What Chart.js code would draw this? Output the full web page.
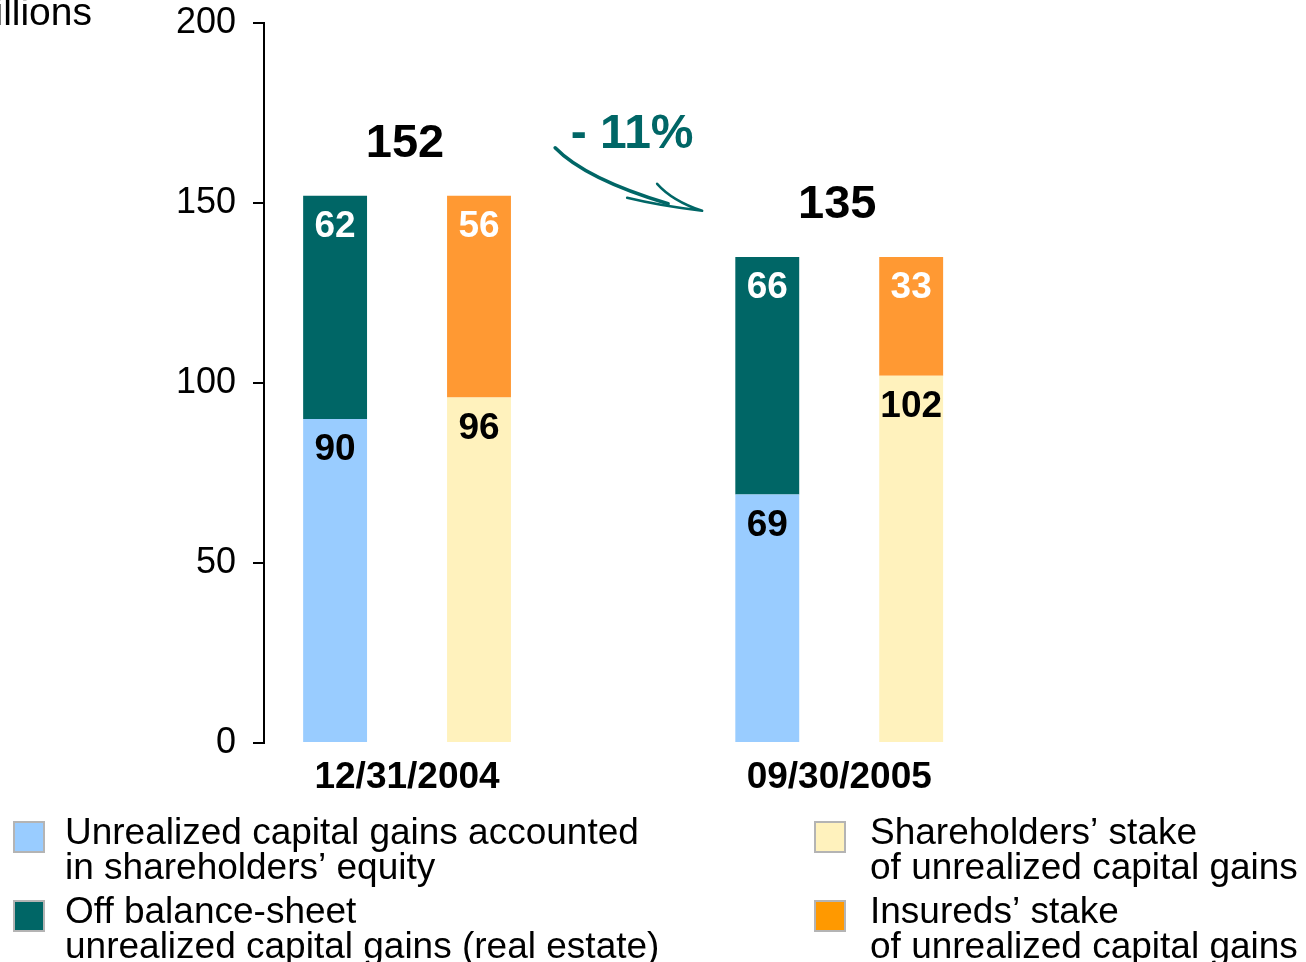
<!DOCTYPE html>
<html>
<head>
<meta charset="utf-8">
<title>Unrealized capital gains</title>
<script src="https://cdn.jsdelivr.net/npm/chart.js@4"></script>
<style>
  html, body { margin: 0; padding: 0; background: #fff; overflow: hidden; }
  canvas { display: block; }
</style>
</head>
<body>
<canvas id="gainsChart" width="1306" height="962"></canvas>
<script>
const categories = ['12/31/2004', '09/30/2005'];
const equityGains = [90, 69];
const offBalanceGains = [62, 66];
const shareholdersStake = [96, 102];
const insuredsStake = [56, 33];
const totals = [152, 135];
const changeLabel = '- 11%';
const unitLabel = 'In € billions';
const yTicks = [0, 50, 100, 150, 200];

const FONT = '"Liberation Sans", Arial, Helvetica, sans-serif';
const TEAL = '#006666';

Chart.defaults.font.family = FONT;
Chart.defaults.color = '#000';

function points(values) {
    return values.map((v, i) => ({ x: i, y: v }));
}

// value labels inside the bars, totals above, and the -11% arrow
const barAnnotations = {
    id: 'barAnnotations',
    afterDatasetsDraw(chart) {
        const ctx = chart.ctx;
        const xs = chart.scales.x;
        const ys = chart.scales.y;
        ctx.save();
        ctx.textAlign = 'center';
        ctx.textBaseline = 'middle';

        ctx.font = 'bold 37px ' + FONT;
        chart.data.datasets.forEach((ds, di) => {
            chart.getDatasetMeta(di).data.forEach((bar, i) => {
                ctx.fillStyle = ds.labelColor;
                ctx.fillText(String(ds.data[i].y), bar.x, bar.y + 31);
            });
        });

        ctx.font = 'bold 47px ' + FONT;
        ctx.fillStyle = '#000';
        totals.forEach((t, i) => {
            ctx.fillText(String(t), xs.getPixelForValue(i) - 2, ys.getPixelForValue(t) - 52);
        });

        const cx = (xs.getPixelForValue(0) + xs.getPixelForValue(1)) / 2 + 9;
        const cy = ys.getPixelForValue(totals[0]) - 61;
        ctx.font = 'bold 48px ' + FONT;
        ctx.fillStyle = TEAL;
        ctx.fillText(changeLabel, cx, cy);

        ctx.strokeStyle = TEAL;
        ctx.lineCap = 'round';
        ctx.lineWidth = 3.5;
        ctx.beginPath();
        ctx.moveTo(cx - 77, cy + 13);
        ctx.quadraticCurveTo(cx - 47, cy + 44, cx + 36, cy + 69);
        ctx.stroke();
        ctx.lineWidth = 2.5;
        ctx.beginPath();
        ctx.moveTo(cx + 25, cy + 49);
        ctx.quadraticCurveTo(cx + 40, cy + 66, cx + 70, cy + 76);
        ctx.moveTo(cx - 5, cy + 63);
        ctx.quadraticCurveTo(cx + 28, cy + 71, cx + 70, cy + 76);
        ctx.stroke();
        ctx.restore();
    }
};

// two-column legend with wrapped labels, plus the unit caption
const sideLegend = {
    id: 'sideLegend',
    afterDraw(chart) {
        const ctx = chart.ctx;
        ctx.save();
        ctx.font = '37px ' + FONT;
        ctx.textAlign = 'left';
        ctx.textBaseline = 'alphabetic';
        chart.data.datasets.forEach((ds, di) => {
            const col = di < 2 ? 0 : 1;
            const row = di % 2;
            const boxX = col === 0 ? 14 : 815;
            const textX = col === 0 ? 65 : 870;
            const top = 822 + row * 79;
            ctx.fillStyle = ds.legendColor;
            ctx.fillRect(boxX, top, 30, 30);
            ctx.strokeStyle = '#b4b4b4';
            ctx.lineWidth = 2;
            ctx.strokeRect(boxX, top, 30, 30);
            ctx.fillStyle = '#000';
            ds.label.split('\n').forEach((line, li) => {
                ctx.fillText(line, textX, top + 22 + li * 35);
            });
        });

        ctx.font = '39px ' + FONT;
        ctx.textAlign = 'right';
        ctx.fillText(unitLabel, 92, 25);
        ctx.restore();
    }
};

new Chart(document.getElementById('gainsChart'), {
    type: 'bar',
    data: {
        datasets: [
            {
                label: 'Unrealized capital gains accounted\nin shareholders’ equity',
                data: points(equityGains),
                stack: 'left',
                backgroundColor: '#99ccff',
                legendColor: '#99ccff',
                labelColor: '#000'
            },
            {
                label: 'Off balance-sheet\nunrealized capital gains (real estate)',
                data: points(offBalanceGains),
                stack: 'left',
                backgroundColor: TEAL,
                legendColor: TEAL,
                labelColor: '#fff'
            },
            {
                label: 'Shareholders’ stake\nof unrealized capital gains',
                data: points(shareholdersStake),
                stack: 'right',
                backgroundColor: '#fff2bd',
                legendColor: '#fff2bd',
                labelColor: '#000'
            },
            {
                label: 'Insureds’ stake\nof unrealized capital gains',
                data: points(insuredsStake),
                stack: 'right',
                backgroundColor: '#ff9933',
                legendColor: '#ff9900',
                labelColor: '#fff'
            }
        ]
    },
    options: {
        responsive: false,
        animation: false,
        categoryPercentage: 0.666,
        barPercentage: 0.444,
        layout: { padding: { left: 0, top: 23, right: 13, bottom: 0 } },
        plugins: {
            legend: { display: false },
            tooltip: { enabled: false }
        },
        scales: {
            x: {
                type: 'linear',
                offset: false,
                min: -0.331,
                max: 2.05,
                grid: { display: false },
                border: { display: false },
                ticks: {
                    stepSize: 1,
                    includeBounds: false,
                    autoSkip: false,
                    maxRotation: 0,
                    padding: 5,
                    font: { size: 37, weight: 'bold' },
                    color: '#000',
                    callback: v => categories[v] ?? ''
                },
                afterFit: scale => { scale.height = 219; }
            },
            y: {
                stacked: true,
                min: 0,
                max: 200,
                grid: {
                    drawOnChartArea: false,
                    drawTicks: true,
                    tickLength: 11,
                    color: '#000',
                    lineWidth: 2
                },
                border: { color: '#000', width: 2 },
                afterBuildTicks: scale => {
                    scale.ticks = yTicks.map(v => ({ value: v }));
                },
                ticks: {
                    padding: 17,
                    font: { size: 36 },
                    color: '#000'
                },
                afterFit: scale => {
                    scale.width = 264;
                    scale.paddingTop = 0;
                    scale.paddingBottom = 0;
                }
            }
        }
    },
    plugins: [barAnnotations, sideLegend]
});
</script>
</body>
</html>
